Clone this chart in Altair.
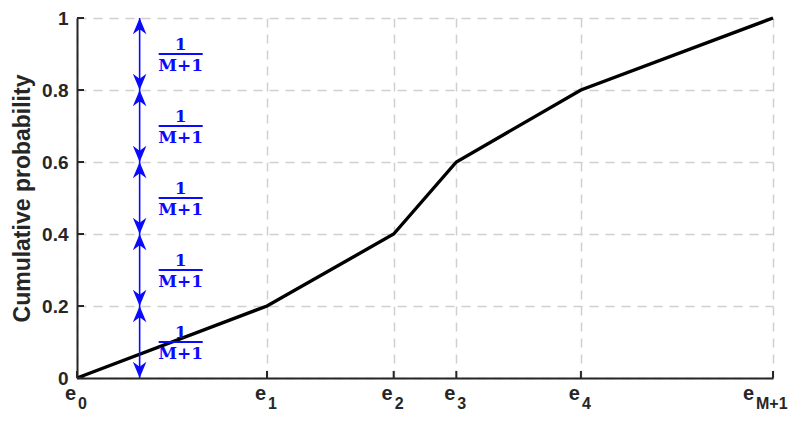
import altair as alt
import pandas as pd

# ---- data ----
e_subscripts = ["0", "1", "2", "3", "4", "M+1"]
e_positions = [0.0, 0.273, 0.455, 0.545, 0.724, 1.0]
cum_prob = [0.0, 0.2, 0.4, 0.6, 0.8, 1.0]
y_ticks = [0.0, 0.2, 0.4, 0.6, 0.8, 1.0]
interval_lo = [0.0, 0.2, 0.4, 0.6, 0.8]
interval_hi = [0.2, 0.4, 0.6, 0.8, 1.0]
arrow_x = 0.09
frac_x = 0.149
frac_num = "1"
frac_den = "M+1"

W, H = 696, 360
BLUE = "#0a0aff"
DARK = "#262626"
SANS = "Liberation Sans"
SERIF = "DejaVu Serif"

line_df = pd.DataFrame({"x": e_positions, "y": cum_prob})
elab_df = pd.DataFrame({"x": e_positions, "sub": e_subscripts})
yt_df = pd.DataFrame({"y": y_ticks})
iv_df = pd.DataFrame({
    "lo": interval_lo,
    "hi": interval_hi,
    "mid": [(a + b) / 2 for a, b in zip(interval_lo, interval_hi)],
    "ax": [arrow_x] * len(interval_lo),
    "fx": [frac_x] * len(interval_lo),
    "num": [frac_num] * len(interval_lo),
    "den": [frac_den] * len(interval_lo),
})

xscale = alt.Scale(domain=[0, 1], nice=False, zero=False)
yscale = alt.Scale(domain=[0, 1], nice=False, zero=False)

x_axis = alt.Axis(values=e_positions, labels=False, ticks=False, title=None,
                  grid=True, gridDash=[9, 7], gridColor="#d0d0d0", gridWidth=1.5,
                  domainColor=DARK, domainWidth=2)
y_axis = alt.Axis(values=y_ticks, format=".1~f", ticks=False,
                  title="Cumulative probability", titleFont=SANS, titleFontSize=23,
                  titleFontWeight="bold", titleColor=DARK, titlePadding=7,
                  labelFont=SANS, labelFontSize=19, labelFontWeight="bold",
                  labelColor=DARK, labelPadding=9,
                  grid=True, gridDash=[9, 7], gridColor="#d0d0d0", gridWidth=1.5,
                  domainColor=DARK, domainWidth=2)

base_line = alt.Chart(line_df).mark_line(color="black", strokeWidth=3.4).encode(
    x=alt.X("x:Q", scale=xscale, axis=x_axis),
    y=alt.Y("y:Q", scale=yscale, axis=y_axis),
)

# inward ticks
xticks = alt.Chart(elab_df).mark_rule(color=DARK, strokeWidth=2).encode(
    x=alt.X("x:Q", scale=xscale), y=alt.value(H), y2=alt.value(H - 7))
yticks = alt.Chart(yt_df).mark_rule(color=DARK, strokeWidth=2).encode(
    y=alt.Y("y:Q", scale=yscale), x=alt.value(0), x2=alt.value(7))

# x labels e_k
short = "length(datum.sub) == 1"
long_ = "length(datum.sub) > 1"
e_short = alt.Chart(elab_df).transform_filter(short).mark_text(
    text="e", align="right", baseline="alphabetic", dx=-1, font=SANS,
    fontSize=20, fontWeight="bold", color=DARK).encode(
    x=alt.X("x:Q", scale=xscale), y=alt.value(H + 22))
s_short = alt.Chart(elab_df).transform_filter(short).mark_text(
    align="left", baseline="alphabetic", dx=1, font=SANS,
    fontSize=16, fontWeight="bold", color=DARK).encode(
    x=alt.X("x:Q", scale=xscale), y=alt.value(H + 31), text="sub:N")
e_long = alt.Chart(elab_df).transform_filter(long_).mark_text(
    text="e", align="right", baseline="alphabetic", dx=-19, font=SANS,
    fontSize=20, fontWeight="bold", color=DARK).encode(
    x=alt.X("x:Q", scale=xscale), y=alt.value(H + 22))
s_long = alt.Chart(elab_df).transform_filter(long_).mark_text(
    align="left", baseline="alphabetic", dx=-17, font=SANS,
    fontSize=16, fontWeight="bold", color=DARK).encode(
    x=alt.X("x:Q", scale=xscale), y=alt.value(H + 31), text="sub:N")

# double arrows
up_head = "M0,0 L0.42,1 L0,0.7 L-0.42,1 Z"
down_head = "M0,0 L0.42,-1 L0,-0.7 L-0.42,-1 Z"
shaft = alt.Chart(iv_df).mark_rule(color=BLUE, strokeWidth=1.6).encode(
    x=alt.X("ax:Q", scale=xscale), y=alt.Y("lo:Q", scale=yscale), y2="hi:Q")
heads_up = alt.Chart(iv_df).mark_point(shape=up_head, size=1050, filled=True,
                                       color=BLUE, opacity=1, strokeWidth=0).encode(
    x=alt.X("ax:Q", scale=xscale), y=alt.Y("hi:Q", scale=yscale))
heads_down = alt.Chart(iv_df).mark_point(shape=down_head, size=1050, filled=True,
                                         color=BLUE, opacity=1, strokeWidth=0).encode(
    x=alt.X("ax:Q", scale=xscale), y=alt.Y("lo:Q", scale=yscale))

# fraction labels
bar = alt.Chart(iv_df).mark_rule(color=BLUE, strokeWidth=1.8, xOffset=-22, x2Offset=22).encode(
    x=alt.X("fx:Q", scale=xscale), x2="fx:Q", y=alt.Y("mid:Q", scale=yscale))
num = alt.Chart(iv_df).mark_text(color=BLUE, font=SERIF, fontWeight="bold", fontSize=17,
                                 baseline="alphabetic", dy=-4).encode(
    x=alt.X("fx:Q", scale=xscale), y=alt.Y("mid:Q", scale=yscale), text="num:N")
den = alt.Chart(iv_df).mark_text(color=BLUE, font=SERIF, fontWeight="bold", fontSize=17,
                                 baseline="alphabetic", dy=17).encode(
    x=alt.X("fx:Q", scale=xscale), y=alt.Y("mid:Q", scale=yscale), text="den:N")

chart = alt.layer(
    base_line, xticks, yticks, shaft, heads_up, heads_down, bar, num, den,
    e_short, s_short, e_long, s_long,
).properties(
    width=W, height=H,
    autosize=alt.AutoSizeParams(type="none"),
    padding={"left": 69, "top": 10, "right": 17, "bottom": 35},
    background="white",
).configure_view(strokeWidth=0)

chart.save("out.html", embed_options={"renderer": "svg", "actions": False})
